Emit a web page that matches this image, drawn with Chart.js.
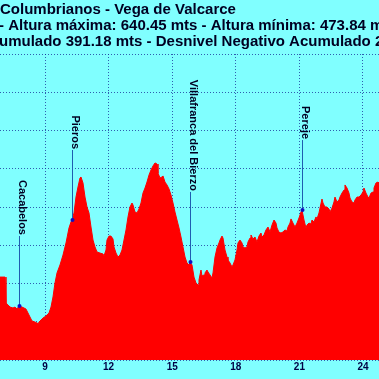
<!DOCTYPE html>
<html>
<head>
<meta charset="utf-8">
<script src="https://cdn.jsdelivr.net/npm/chart.js@4.4.1/dist/chart.umd.min.js"></script>
<style>
html,body{margin:0;padding:0;background:#80ffff;overflow:hidden;}
canvas{display:block;}
</style>
</head>
<body>
<canvas id="c" width="379" height="379"></canvas>
<script>
// ---- data ----
const distances = [6.877,7.113,7.160,7.254,7.349,7.490,7.585,7.679,7.773,7.915,8.009,8.103,8.198,8.292,8.387,8.528,8.670,8.764,8.905,9.047,9.188,9.283,9.377,9.471,9.566,9.707,9.849,9.990,10.132,10.226,10.273,10.368,10.462,10.556,10.651,10.698,10.792,10.887,10.981,11.075,11.170,11.264,11.358,11.453,11.594,11.736,11.783,11.877,11.924,12.019,12.113,12.207,12.255,12.349,12.443,12.538,12.632,12.726,12.821,12.915,13.009,13.104,13.151,13.245,13.339,13.434,13.528,13.622,13.717,13.811,13.906,14.000,14.094,14.189,14.283,14.330,14.424,14.519,14.566,14.660,14.754,14.849,14.943,15.038,15.132,15.226,15.321,15.415,15.509,15.604,15.698,15.792,15.840,15.934,16.028,16.123,16.217,16.264,16.311,16.358,16.406,16.500,16.547,16.641,16.689,16.783,16.877,16.925,17.019,17.113,17.207,17.255,17.349,17.396,17.490,17.585,17.632,17.726,17.821,17.868,17.962,18.057,18.104,18.198,18.292,18.340,18.434,18.528,18.575,18.670,18.717,18.811,18.905,19.000,19.094,19.188,19.236,19.330,19.424,19.519,19.613,19.708,19.802,19.896,19.943,20.038,20.132,20.226,20.321,20.415,20.462,20.557,20.604,20.698,20.792,20.887,20.981,21.075,21.122,21.217,21.311,21.358,21.453,21.547,21.594,21.688,21.783,21.830,21.924,21.972,22.066,22.113,22.207,22.302,22.396,22.443,22.538,22.632,22.679,22.773,22.868,22.915,23.009,23.104,23.151,23.245,23.339,23.387,23.481,23.575,23.623,23.717,23.811,23.906,24.000,24.047,24.141,24.236,24.283,24.377,24.472,24.519,24.613,24.707,24.755];
const elevations = [504.2,504.2,487.3,486.0,484.6,484.0,484.6,483.3,485.3,484.6,484.0,483.3,480.7,478.1,475.5,474.8,473.8,475.5,477.4,478.8,480.7,484.6,491.2,500.3,506.9,512.1,518.6,526.5,536.3,540.2,541.5,546.1,556.5,563.1,569.0,569.6,565.7,556.5,550.0,546.1,536.9,528.4,523.9,520.6,519.9,519.3,518.0,521.9,528.4,531.0,531.0,529.1,523.9,519.9,517.3,518.6,521.9,528.4,535.0,543.5,550.0,552.6,551.3,546.7,546.1,548.7,552.6,559.1,562.4,566.3,570.9,574.2,576.8,578.8,578.1,572.2,569.0,569.6,570.3,566.3,564.4,561.8,557.8,552.6,546.7,541.5,536.3,530.4,523.9,517.3,513.4,512.1,514.1,512.1,504.2,500.3,499.0,502.3,505.6,508.8,504.9,505.6,506.9,508.8,507.5,505.6,503.6,506.9,517.3,523.2,526.5,528.4,531.0,529.7,521.9,517.3,515.4,513.4,510.8,512.1,515.4,521.9,526.5,528.4,526.5,523.9,523.2,523.9,527.1,529.7,531.7,529.1,530.4,527.1,531.0,533.0,530.4,531.7,535.0,536.9,533.7,538.2,541.5,539.5,536.3,533.5,533.0,533.7,535.0,534.3,536.9,539.5,542.2,539.5,536.9,539.5,542.8,546.7,548.0,541.5,536.3,538.2,539.5,538.9,541.5,540.2,543.5,542.2,546.1,549.3,555.2,552.6,550.0,550.0,548.7,546.7,549.3,553.3,556.5,553.3,554.6,556.5,559.1,561.1,564.4,562.4,559.1,555.9,553.3,552.6,554.6,556.5,556.5,557.8,559.8,562.4,559.1,556.5,555.9,559.1,559.8,562.4,565.7,566.3,565.7];
const xTicks = [9, 12, 15, 18, 21, 24];
const yTicks = [450, 475, 500, 525, 550, 575, 600, 625, 650];
const places = ['Cacabelos', 'Pieros', 'Villafranca del Bierzo', 'Pereje'];
const placeKm = [7.773, 10.273, 15.840, 21.122];
const placeAlt = [485.3, 541.5, 514.1, 548.0];
const titleLines = [
  'Columbrianos - Vega de Valcarce',
  'Distancia: 25.84 kms - Altura máxima: 640.45 mts - Altura mínima: 473.84 mts',
  'Desnivel Positivo Acumulado 391.18 mts - Desnivel Negativo Acumulado 283.71 mts'
];
// hidden (cropped) prefix of each title line, used to align the visible part
const titlePrefix = ['', 'Distancia: 25.84 kms ', 'Desnivel Positivo Ac'];
const titleX = [0, -1, -1];
const titleY = [14, 30, 46];

const FONT = '"Liberation Sans", Arial, sans-serif';
const GRID = 'rgba(20,40,150,0.75)';

const bgPlugin = {
  id: 'bg',
  beforeDraw(chart) {
    const ctx = chart.ctx;
    ctx.save();
    ctx.fillStyle = '#80ffff';
    ctx.fillRect(0, 0, chart.width, chart.height);
    ctx.restore();
  }
};

const overlayPlugin = {
  id: 'overlay',
  afterDraw(chart) {
    const ctx = chart.ctx;
    const xs = chart.scales.x, ys = chart.scales.y;
    ctx.save();
    // title lines
    ctx.font = 'bold 15px ' + FONT;
    ctx.fillStyle = '#000022';
    ctx.textBaseline = 'alphabetic';
    ctx.textAlign = 'left';
    titleLines.forEach((t, i) => {
      const off = ctx.measureText(titlePrefix[i]).width;
      ctx.fillText(t, titleX[i] - off, titleY[i]);
    });
    // place labels
    places.forEach((name, i) => {
      const px = Math.round(xs.getPixelForValue(placeKm[i])) + 0.5;
      const py = ys.getPixelForValue(placeAlt[i]);
      const top = py - 70;
      ctx.strokeStyle = '#1f5fb0';
      ctx.lineWidth = 1;
      ctx.beginPath();
      ctx.moveTo(px, py);
      ctx.lineTo(px, top);
      ctx.stroke();
      ctx.fillStyle = '#1010c0';
      ctx.beginPath();
      ctx.arc(px, py, 2, 0, Math.PI * 2);
      ctx.fill();
      ctx.save();
      ctx.translate(px - 1, top - 1);
      ctx.rotate(Math.PI / 2);
      ctx.font = 'bold 11px ' + FONT;
      ctx.fillStyle = '#000022';
      ctx.textAlign = 'right';
      ctx.textBaseline = 'alphabetic';
      ctx.fillText(name, 0, 0);
      ctx.restore();
    });
    ctx.restore();
  }
};

new Chart(document.getElementById('c'), {
  type: 'line',
  data: {
    datasets: [{
      data: distances.map((d, i) => ({ x: d, y: elevations[i] })),
      borderColor: '#ff0000',
      backgroundColor: '#ff0000',
      borderWidth: 1,
      pointRadius: 0,
      fill: 'start',
      tension: 0
    }]
  },
  options: {
    responsive: false,
    animation: false,
    devicePixelRatio: 1,
    layout: { padding: { top: 54, left: 0, right: 0, bottom: 0 } },
    plugins: { legend: { display: false }, tooltip: { enabled: false }, title: { display: false } },
    scales: {
      x: {
        type: 'linear',
        min: 6.877,
        max: 24.755,
        z: 1,
        afterBuildTicks: s => { s.ticks = xTicks.map(v => ({ value: v })); },
        afterFit: s => { s.height = 19; },
        grid: { color: GRID, lineWidth: 1, drawTicks: false },
        border: { display: false, dash: [1, 2] },
        ticks: { color: '#000044', font: { size: 10, weight: 'bold', family: FONT }, padding: 1, maxRotation: 0, autoSkip: false, callback: v => String(v) }
      },
      y: {
        min: 450,
        max: 650,
        z: 1,
        afterBuildTicks: s => { s.ticks = yTicks.map(v => ({ value: v })); },
        afterFit: s => { s.width = 0; },
        grid: { color: GRID, lineWidth: 1, drawTicks: false },
        border: { display: false, dash: [1, 2] },
        ticks: { display: false }
      }
    }
  },
  plugins: [bgPlugin, overlayPlugin]
});
</script>
</body>
</html>
